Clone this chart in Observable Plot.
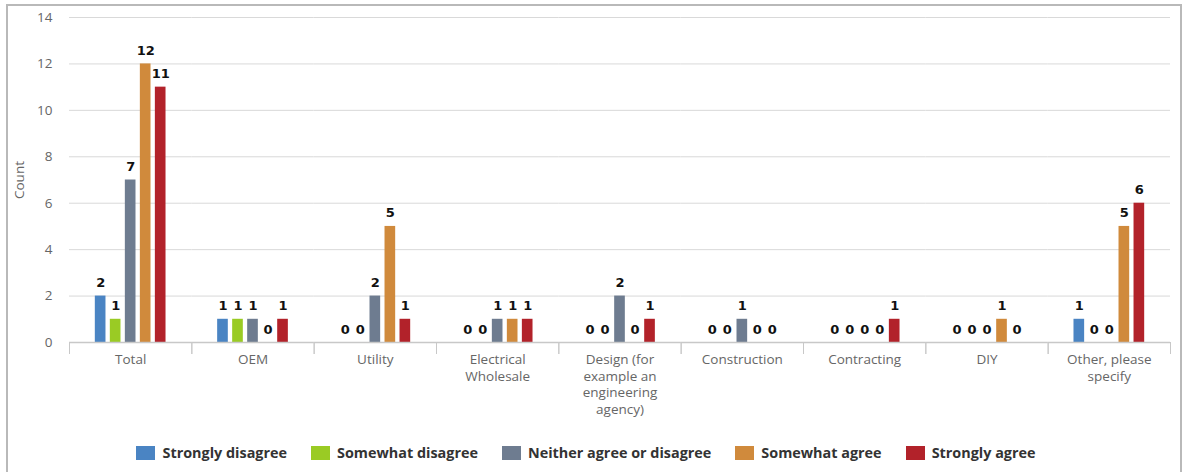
<!DOCTYPE html>
<html>
<head>
<meta charset="utf-8">
<script src="https://cdn.jsdelivr.net/npm/d3@7"></script>
<script src="https://cdn.jsdelivr.net/npm/@observablehq/plot@0.6"></script>
<style>
  html, body { margin: 0; padding: 0; background: #fff; }
  body { width: 1190px; height: 472px; position: relative; overflow: hidden; font-family: "Open Sans", sans-serif; }
  #frame { position: absolute; left: 6px; top: 4px; width: 1176px; height: 480px; border: 2px solid #b9b9b9; box-sizing: border-box; }
  #chart { position: absolute; left: 0; top: 0; }
  #legend { position: absolute; left: 0; top: 443px; width: 1172px; display: flex; justify-content: center; font-weight: 700; font-size: 14.4px; color: #333; }
  .item { display: flex; align-items: center; margin: 0 12px; }
  .sw { width: 19px; height: 14px; margin-right: 7px; }
</style>
</head>
<body>
<div id="frame"></div>
<div id="chart"></div>
<div id="legend"></div>
<script>
// Respondent categories (x groups) and their wrapped axis labels
const categories = ["Total", "OEM", "Utility", "Electrical Wholesale", "Design (for example an engineering agency)", "Construction", "Contracting", "DIY", "Other, please specify"];
const categoryLabels = ["Total", "OEM", "Utility", "Electrical\nWholesale", "Design (for\nexample an\nengineering\nagency)", "Construction", "Contracting", "DIY", "Other, please\nspecify"];

// Answer options (series)
const series = ["Strongly disagree", "Somewhat disagree", "Neither agree or disagree", "Somewhat agree", "Strongly agree"];
const colors = ["#4a84c3", "#9acb24", "#6e7c90", "#d08a3c", "#b2222a"];

// Counts per series, one value per category
const stronglyDisagree = [2, 1, 0, 0, 0, 0, 0, 0, 1];
const somewhatDisagree = [1, 1, 0, 0, 0, 0, 0, 0, 0];
const neither          = [7, 1, 2, 1, 2, 1, 0, 0, 0];
const somewhatAgree    = [12, 0, 5, 1, 0, 0, 0, 1, 5];
const stronglyAgree    = [11, 1, 1, 1, 1, 0, 1, 0, 6];

const yTicks = [0, 2, 4, 6, 8, 10, 12, 14];

const valuesBySeries = [stronglyDisagree, somewhatDisagree, neither, somewhatAgree, stronglyAgree];
const rows = [];
categories.forEach((c, i) => {
  series.forEach((s, j) => rows.push({category: c, series: s, count: valuesBySeries[j][i]}));
});

const labelOf = new Map(categories.map((c, i) => [c, categoryLabels[i]]));

const W = 1190, H = 430, mt = 17, mb = 88, ml = 69, mr = 20;
const innerH = H - mt - mb;

const chart = Plot.plot({
  width: W,
  height: H,
  marginTop: mt,
  marginBottom: mb,
  marginLeft: ml,
  marginRight: mr,
  style: {fontFamily: "'Open Sans', sans-serif", fontSize: "13px", color: "#666", background: "transparent"},
  fx: {domain: categories, padding: 0, round: false, label: null},
  x: {domain: series, paddingInner: 0.29, paddingOuter: 1.72, round: false, axis: null},
  y: {domain: [0, 14], ticks: yTicks, label: null},
  color: {domain: series, range: colors},
  marks: [
    Plot.gridY(yTicks.filter(d => d > 0), {stroke: "#d9d9d9", strokeOpacity: 1, strokeWidth: 1}),
    Plot.axisY(yTicks, {tickSize: 0, tickPadding: 17, fill: "#666", fontSize: 13.5, label: "Count", labelAnchor: "center", labelArrow: "none", labelOffset: 55}),
    Plot.axisFx({anchor: "bottom", tickSize: 0, tickPadding: 10, fill: "#666", fontSize: 13.5, lineHeight: 1.22, tickFormat: d => labelOf.get(d), label: null}),
    Plot.frame({anchor: "left", stroke: "#c8c8c8", insetTop: innerH, insetBottom: -11}),
    Plot.frame({anchor: "right", stroke: "#c8c8c8", insetTop: innerH, insetBottom: -11}),
    Plot.barY(rows, {fx: "category", x: "series", y: "count", fill: "series"}),
    Plot.ruleY([0], {stroke: "#c8c8c8", strokeWidth: 1.5}),
    Plot.text(rows, {fx: "category", x: "series", y: "count", text: d => String(d.count), lineAnchor: "bottom", dy: -9, fill: "#111", fontWeight: 700, fontSize: 13, fontFamily: "'DejaVu Sans', sans-serif"})
  ]
});
document.getElementById("chart").appendChild(chart);

const legend = document.getElementById("legend");
series.forEach((s, i) => {
  const item = document.createElement("div");
  item.className = "item";
  const sw = document.createElement("span");
  sw.className = "sw";
  sw.style.background = colors[i];
  const t = document.createElement("span");
  t.textContent = s;
  item.appendChild(sw);
  item.appendChild(t);
  legend.appendChild(item);
});
</script>
</body>
</html>
